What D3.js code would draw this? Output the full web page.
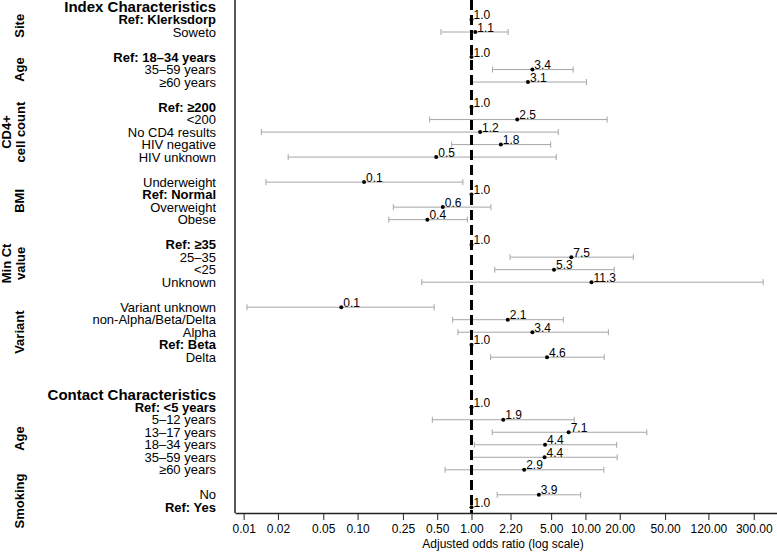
<!DOCTYPE html>
<html>
<head>
<meta charset="utf-8">
<script src="https://cdn.jsdelivr.net/npm/d3@7"></script>
<style>
  html, body { margin: 0; padding: 0; background: #fff; }
  svg { display: block; font-family: "Liberation Sans", Arial, sans-serif; }
</style>
</head>
<body>
<svg id="chart" width="777" height="553"></svg>
<script>
// ---- data ----
const rowLabels = [
  "Index Characteristics", "Ref: Klerksdorp", "Soweto", "",
  "Ref: 18–34 years", "35–59 years", "≥60 years", "",
  "Ref: ≥200", "<200", "No CD4 results", "HIV negative", "HIV unknown", "",
  "Underweight", "Ref: Normal", "Overweight", "Obese", "",
  "Ref: ≥35", "25–35", "<25", "Unknown", "",
  "Variant unknown", "non-Alpha/Beta/Delta", "Alpha", "Ref: Beta", "Delta", "", "",
  "Contact Characteristics", "Ref: <5 years", "5–12 years", "13–17 years", "18–34 years", "35–59 years", "≥60 years", "",
  "No", "Ref: Yes"
];
const headingRows = ["Index Characteristics", "Contact Characteristics"];

const oddsRatio = [
  null, 1.0, 1.08, null,
  1.0, 3.42, 3.13, null,
  1.0, 2.52, 1.19, 1.81, 0.49, null,
  0.114, 1.0, 0.56, 0.41, null,
  1.0, 7.52, 5.3, 11.3, null,
  0.072, 2.08, 3.42, 1.0, 4.6, null, null,
  null, 1.0, 1.9, 7.12, 4.42, 4.38, 2.9, null,
  3.9, 1.0
];
const ciLower = [
  null, null, 0.54, null,
  null, 1.53, 1.0, null,
  null, 0.43, 0.0143, 0.67, 0.0246, null,
  0.0157, null, 0.206, 0.188, null,
  null, 2.18, 1.6, 0.366, null,
  0.0107, 0.684, 0.76, null, 1.47, null, null,
  null, null, 0.453, 1.52, 1.06, 1.02, 0.586, null,
  1.68, null
];
const ciUpper = [
  null, null, 2.1, null,
  null, 7.8, 10.2, null,
  null, 15.5, 5.77, 4.95, 5.54, null,
  0.84, null, 1.48, 0.92, null,
  null, 26.3, 17.9, 363, null,
  0.47, 6.39, 15.9, null, 14.6, null, null,
  null, null, 7.98, 34.6, 18.8, 19.0, 14.5, null,
  9.08, null
];

const groupNames = [["Site"], ["Age"], ["CD4+", "cell count"], ["BMI"], ["Min Ct", "value"], ["Variant"], ["Age"], ["Smoking"]];
const groupFirstRow = [1, 4, 8, 14, 19, 24, 32, 39];
const groupLastRow  = [2, 6, 12, 17, 22, 28, 37, 40];

const xTicks = [0.01, 0.02, 0.05, 0.10, 0.25, 0.50, 1.00, 2.20, 5.00, 10.00, 20.00, 50.00, 120.00, 300.00];
const xTitle = "Adjusted odds ratio (log scale)";

// ---- layout ----
const svg = d3.select("#chart");
const plotLeft = 235, plotRight = 777, axisY = 513;
const x = d3.scaleLog().domain([0.0084, 480]).range([plotLeft, plotRight]);
const y = d3.scaleLinear().domain([0, rowLabels.length - 1]).range([7, 507.3]);
const fmt = d3.format(".1f");

const rows = rowLabels.map((label, i) => ({
  i, label, or: oddsRatio[i], lo: ciLower[i], hi: ciUpper[i]
}));

// left labels
svg.append("g").selectAll("text")
  .data(rows.filter(d => d.label !== ""))
  .join("text")
  .attr("x", 216)
  .attr("y", d => y(d.i))
  .attr("dy", "0.35em")
  .attr("text-anchor", "end")
  .attr("font-size", d => headingRows.includes(d.label) ? 15 : 13)
  .attr("font-weight", d => (headingRows.includes(d.label) || d.label.startsWith("Ref:")) ? "bold" : "normal")
  .attr("fill", "#000")
  .text(d => d.label);

// group labels (rotated)
groupNames.forEach((lines, gi) => {
  const cy = (y(groupFirstRow[gi]) + y(groupLastRow[gi])) / 2;
  const xs = lines.length === 1 ? [24] : [10.5, 24.5];
  lines.forEach((ln, li) => {
    svg.append("text")
      .attr("transform", `translate(${xs[li]},${cy}) rotate(-90)`)
      .attr("text-anchor", "middle")
      .attr("font-size", 13)
      .attr("font-weight", "bold")
      .attr("fill", "#000")
      .text(ln);
  });
});

// CI lines
const ciRows = rows.filter(d => d.lo != null && d.hi != null);
const ci = svg.append("g").attr("stroke", "#a6a6a6").attr("stroke-width", 1);
ci.selectAll("line.ci").data(ciRows).join("line")
  .attr("class", "ci")
  .attr("x1", d => x(d.lo)).attr("x2", d => x(d.hi))
  .attr("y1", d => y(d.i)).attr("y2", d => y(d.i));
ci.selectAll("line.capl").data(ciRows).join("line")
  .attr("class", "capl")
  .attr("x1", d => x(d.lo)).attr("x2", d => x(d.lo))
  .attr("y1", d => y(d.i) - 3).attr("y2", d => y(d.i) + 3);
ci.selectAll("line.capr").data(ciRows).join("line")
  .attr("class", "capr")
  .attr("x1", d => x(d.hi)).attr("x2", d => x(d.hi))
  .attr("y1", d => y(d.i) - 3).attr("y2", d => y(d.i) + 3);

// reference dashed line
svg.append("line")
  .attr("x1", x(1)).attr("x2", x(1))
  .attr("y1", 0).attr("y2", axisY)
  .attr("stroke", "#000")
  .attr("stroke-width", 3)
  .attr("stroke-dasharray", "10,5");

// points
const ptRows = rows.filter(d => d.or != null);
svg.append("g").selectAll("circle").data(ptRows).join("circle")
  .attr("cx", d => x(d.or)).attr("cy", d => y(d.i))
  .attr("r", 2).attr("fill", "#000");

// value labels
svg.append("g").selectAll("text").data(ptRows).join("text")
  .attr("x", d => x(d.or) + 2)
  .attr("y", d => y(d.i) - 0.5)
  .attr("font-size", 12)
  .attr("fill", "#000")
  .text(d => fmt(d.or));

// left axis line
svg.append("line")
  .attr("x1", plotLeft).attr("x2", plotLeft)
  .attr("y1", 0).attr("y2", axisY)
  .attr("stroke", "#222").attr("stroke-width", 1.5);

// bottom axis
const axis = d3.axisBottom(x)
  .tickValues(xTicks)
  .tickFormat(d3.format(".2f"))
  .tickSizeInner(7)
  .tickSizeOuter(0)
  .tickPadding(4);
const ax = svg.append("g").attr("transform", `translate(0,${axisY})`).call(axis);
ax.select(".domain").attr("stroke", "#222").attr("stroke-width", 1.5);
ax.selectAll(".tick line").attr("stroke", "#222").attr("stroke-width", 1);
ax.selectAll(".tick text")
  .attr("font-size", 12)
  .attr("font-family", "Liberation Sans, Arial, sans-serif")
  .attr("fill", "#000");

svg.append("text")
  .attr("x", 503).attr("y", 547.5)
  .attr("text-anchor", "middle")
  .attr("font-size", 12)
  .attr("fill", "#000")
  .text(xTitle);
</script>
</body>
</html>
